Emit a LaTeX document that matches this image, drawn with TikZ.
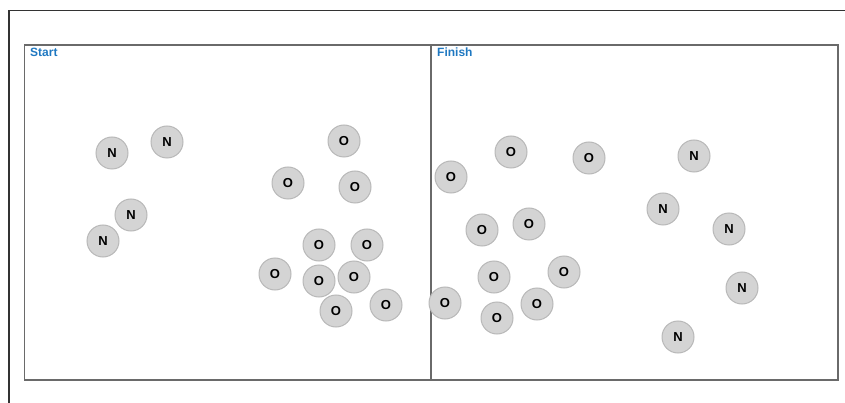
\documentclass[tikz,border=0pt]{standalone}
\usepackage{fontspec}
\setmainfont{Liberation Sans}
\definecolor{lblblue}{HTML}{1F78C1}
\definecolor{ballfill}{HTML}{D4D4D4}
\definecolor{ballline}{HTML}{B8B8B8}
\definecolor{boxline}{HTML}{6A6A6A}
\definecolor{frameline}{HTML}{333333}
\tikzset{
  ball/.style={circle, draw=ballline, line width=1pt, fill=ballfill, minimum size=32pt, inner sep=0pt, font=\fontsize{13}{13}\selectfont\bfseries, text=black},
  paneltitle/.style={anchor=north west, inner sep=0pt, font=\fontsize{12}{12}\selectfont\bfseries, text=lblblue},
  boxstroke/.style={draw=boxline, line width=1.3pt},
  framestroke/.style={draw=frameline, line width=1.2pt}
}
\begin{document}
\begin{tikzpicture}[x=1pt,y=-1pt]
\useasboundingbox (0,0) rectangle (845,403);
% outer frame (only top and left visible)
\coordinate (ftl) at (9,10.5);
\coordinate (ftr) at (845,10.5);
\coordinate (fbl) at (9,403);
\draw[framestroke] (ftr) -- (ftl) -- (fbl);
% inner panels
\coordinate (ptl) at (24.5,45);
\coordinate (pbr) at (838,380);
\coordinate (dtop) at (431,45);
\coordinate (dbot) at (431,380);
\draw[boxstroke] (ptl) rectangle (pbr);
\draw[boxstroke] (dtop) -- (dbot);
\node[paneltitle] (start) at (30,47.5) {Start};
\node[paneltitle] (finish) at (437,47.5) {Finish};
% Start: N
\node[ball] (sn1) at (112,153) {N};
\node[ball] (sn2) at (167,142) {N};
\node[ball] (sn3) at (131,215) {N};
\node[ball] (sn4) at (103,241) {N};
% Start: O
\node[ball] (so1) at (344,141) {O};
\node[ball] (so2) at (288,183) {O};
\node[ball] (so3) at (355,187) {O};
\node[ball] (so4) at (319,245) {O};
\node[ball] (so5) at (367,245) {O};
\node[ball] (so6) at (275,274) {O};
\node[ball] (so7) at (319,281) {O};
\node[ball] (so8) at (354,277) {O};
\node[ball] (so9) at (336,311) {O};
\node[ball] (so10) at (386,305) {O};
% Finish: O
\node[ball] (fo1) at (451,177) {O};
\node[ball] (fo2) at (511,152) {O};
\node[ball] (fo3) at (589,158) {O};
\node[ball] (fo4) at (482,230) {O};
\node[ball] (fo5) at (529,224) {O};
\node[ball] (fo6) at (494,277) {O};
\node[ball] (fo7) at (564,272) {O};
\node[ball] (fo8) at (445,303) {O};
\node[ball] (fo9) at (497,318) {O};
\node[ball] (fo10) at (537,304) {O};
% Finish: N
\node[ball] (fn1) at (694,156) {N};
\node[ball] (fn2) at (663,209) {N};
\node[ball] (fn3) at (729,229) {N};
\node[ball] (fn4) at (742,288) {N};
\node[ball] (fn5) at (678,337) {N};
\end{tikzpicture}
\end{document}
